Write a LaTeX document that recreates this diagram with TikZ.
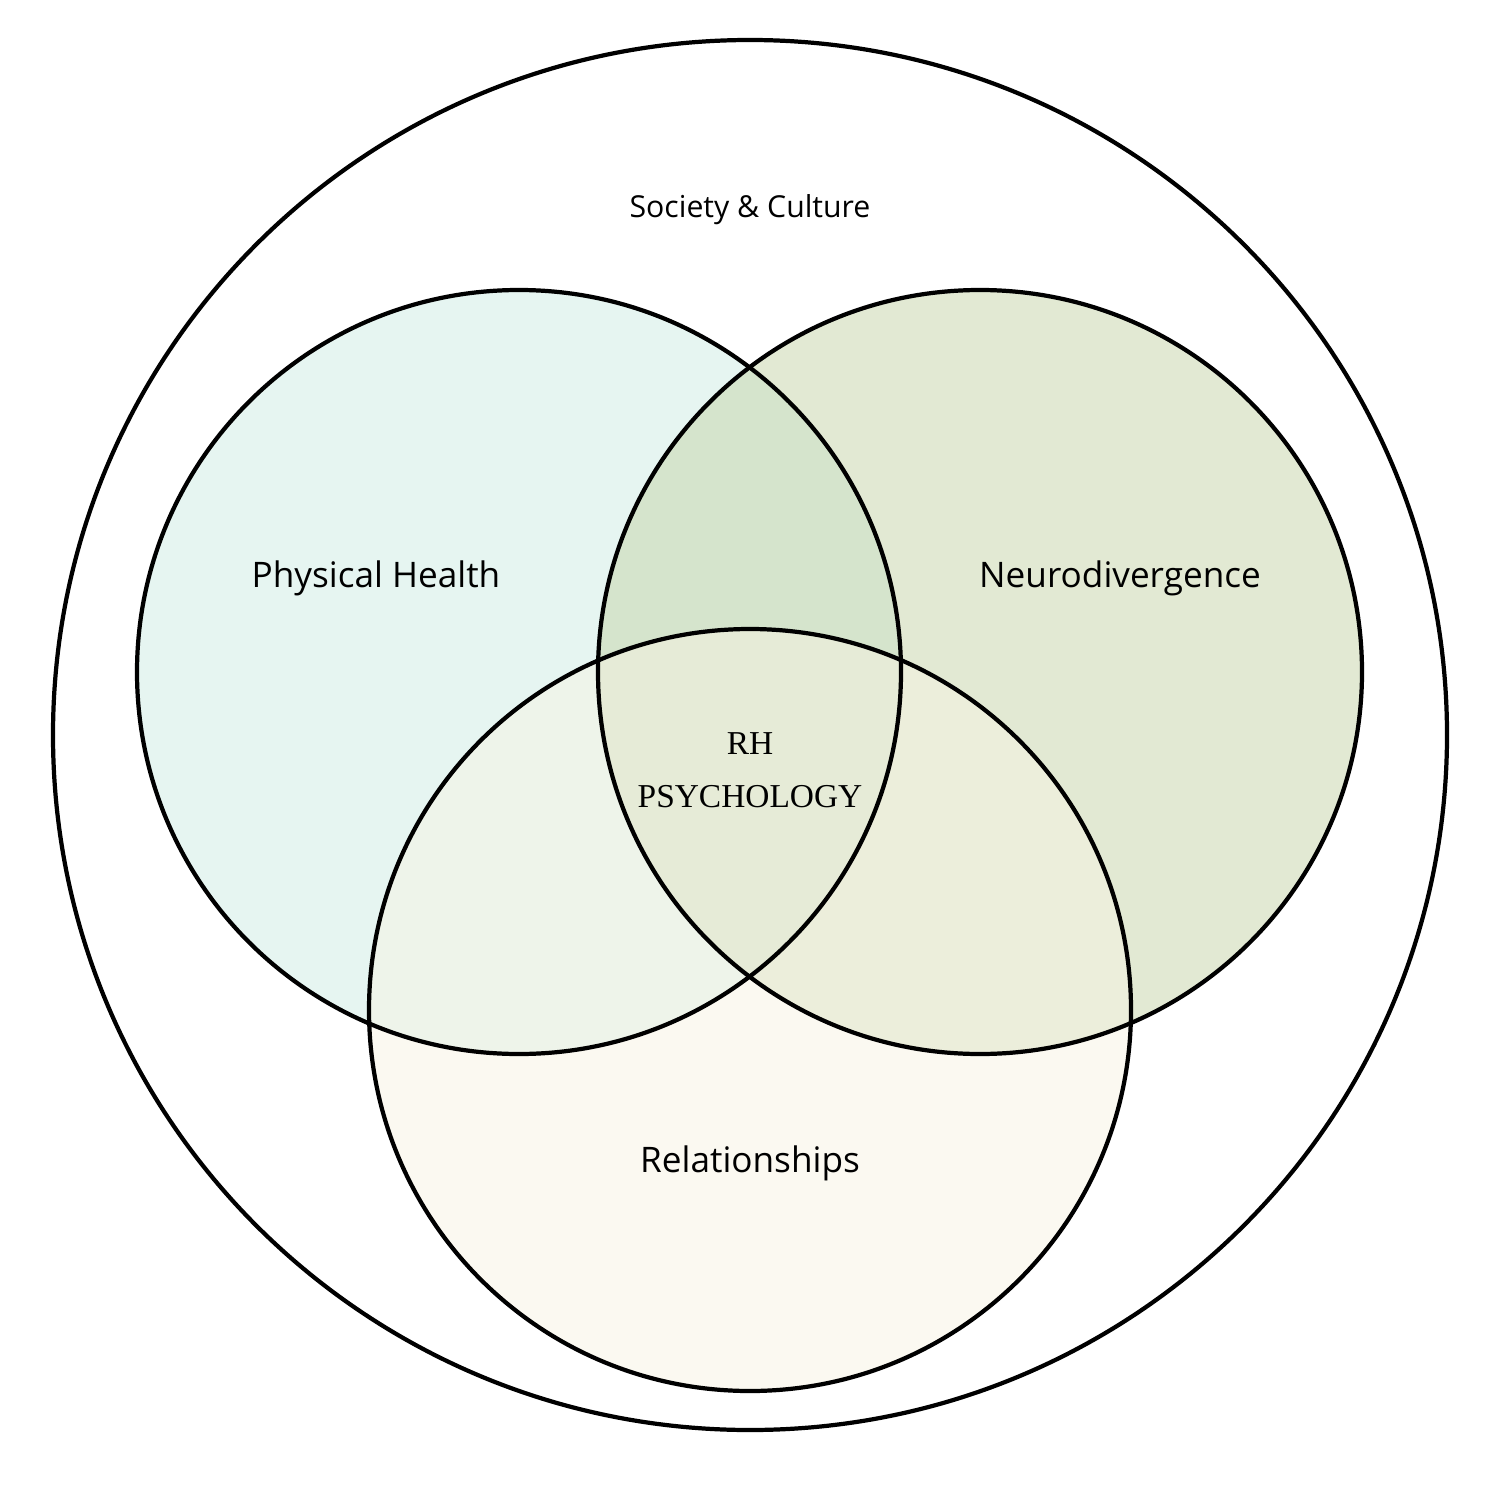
\documentclass[tikz,border=0pt]{standalone}
\usepackage{fontspec}
\setmainfont{Liberation Serif}
\setsansfont{Open Sans}
\begin{document}
\begin{tikzpicture}[x=0.01cm,y=-0.01cm,
  ring/.style={draw=black,line width=1.2pt},
  lab/.style={font=\sffamily\fontsize{10}{12}\selectfont}]
\useasboundingbox (0,0) rectangle (1500,1500);
\definecolor{cL}{RGB}{205,235,227}
\definecolor{cR}{RGB}{197,211,167}
\definecolor{cB}{RGB}{247,243,227}
\draw[ring] (750,735) ellipse [x radius=697, y radius=695];
\fill[cL,fill opacity=0.5] (519,672) circle [radius=382];
\fill[cR,fill opacity=0.5] (980,672) circle [radius=382];
\fill[cB,fill opacity=0.5] (750,1010) circle [radius=381];
\draw[ring] (519,672) circle [radius=382];
\draw[ring] (980,672) circle [radius=382];
\draw[ring] (750,1010) circle [radius=381];
\node[lab,font=\sffamily\fontsize{8.6}{10}\selectfont] (soc) at (750,210) {Society \& Culture};
\node[lab] (ph) at (376,578) {Physical Health};
\node[lab] (nd) at (1120,578) {Neurodivergence};
\node[lab] (rel) at (750,1163) {Relationships};
\node[align=center,font=\fontsize{9.5}{15}\selectfont] (rh) at (750,770) {RH\\PSYCHOLOGY};
\end{tikzpicture}
\end{document}
